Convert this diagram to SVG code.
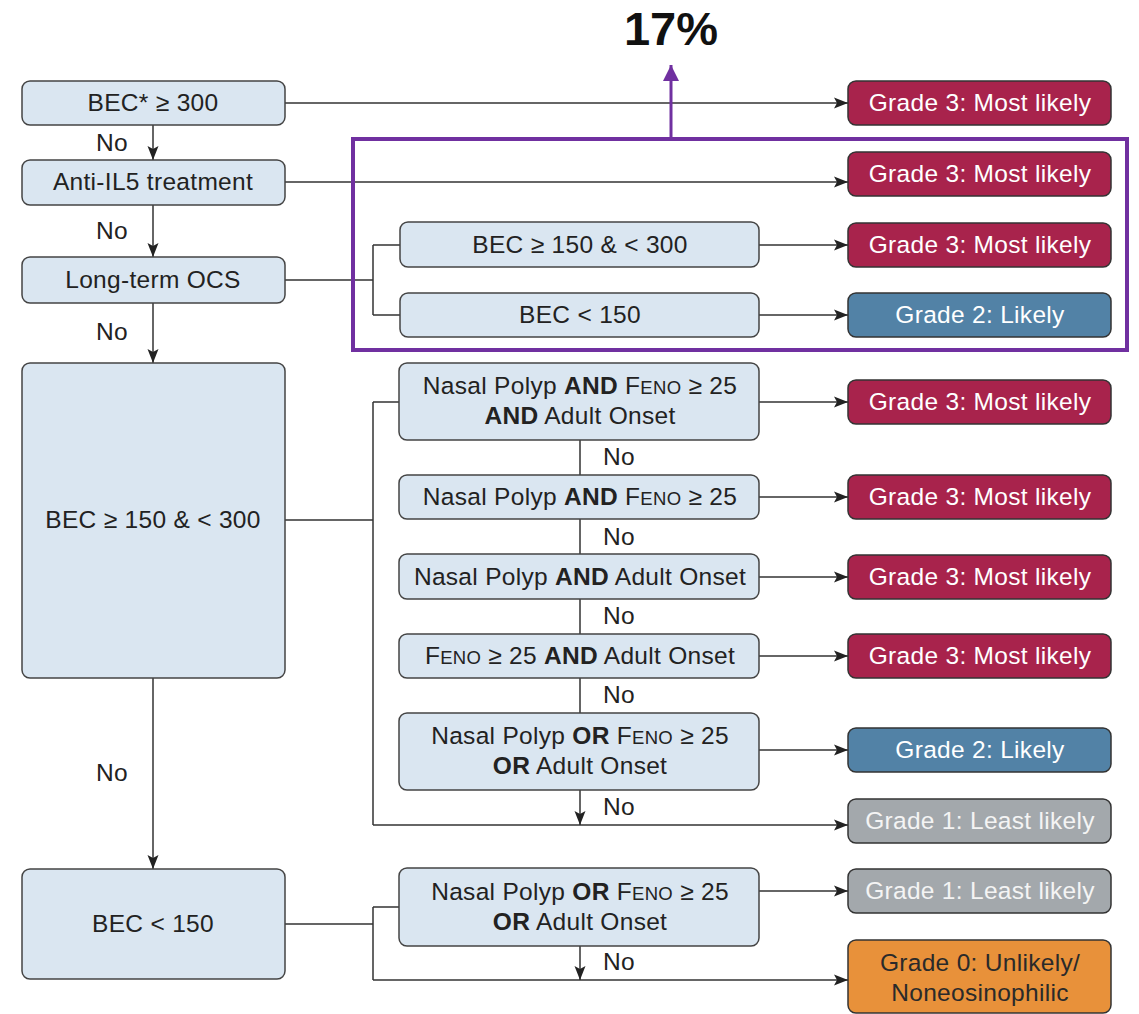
<svg xmlns="http://www.w3.org/2000/svg" width="1139" height="1014" viewBox="0 0 1139 1014">
<defs>
<marker id="ah" markerUnits="userSpaceOnUse" markerWidth="15" markerHeight="12" refX="14" refY="6" orient="auto">
<path d="M0,0.5 L14,6 L0,11.5 L3,6 z" fill="#222"/>
</marker>
<marker id="ahp" markerUnits="userSpaceOnUse" markerWidth="18" markerHeight="18" refX="16" refY="8" orient="auto">
<path d="M0,0 L16,8 L0,16 z" fill="#7030a0"/>
</marker>
</defs>
<style>
text{font-family:"Liberation Sans",Arial,sans-serif;font-size:24.5px;letter-spacing:0.3px;text-anchor:middle;fill:#222}
.b{font-weight:bold}
.sc{font-size:18.5px}
.n rect{fill:#dae6f1;stroke:#444;stroke-width:1.5}
.g3 rect{fill:#a8234c;stroke:#333;stroke-width:1.5}
.g2 rect{fill:#5282a6;stroke:#333;stroke-width:1.5}
.g1 rect{fill:#a3a8ac;stroke:#333;stroke-width:1.5}
.g0 rect{fill:#e8913a;stroke:#333;stroke-width:1.5}
.g3 text,.g2 text{fill:#fff}
.g1 text{fill:#f4f4f4}
.g0 text{fill:#2a2a2a}
.c{fill:none;stroke:#333;stroke-width:1.5}
.a{marker-end:url(#ah)}
.no{text-anchor:start}
</style>

<g id="connectors">
<path class="c a" d="M285,103 H848"/>
<path class="c a" d="M285,182 H848"/>
<path class="c" d="M285,280 H373 M373,245 V315 M373,245 H400 M373,315 H400"/>
<path class="c a" d="M759,245 H848"/>
<path class="c a" d="M759,315 H848"/>
<path class="c a" d="M153,125 V160"/>
<path class="c a" d="M153,205 V257"/>
<path class="c a" d="M153,303 V363"/>
<path class="c a" d="M153,678 V869"/>
<path class="c" d="M285,520 H373 M373,402 V825 M373,402 H399"/>
<path class="c a" d="M373,825 H848"/>
<path class="c" d="M580,440 V475 M580,519 V554 M580,599 V634 M580,678 V713"/>
<path class="c a" d="M580,790 V825"/>
<path class="c a" d="M759,402 H848"/>
<path class="c a" d="M759,497 H848"/>
<path class="c a" d="M759,577 H848"/>
<path class="c a" d="M759,656 H848"/>
<path class="c a" d="M759,750 H848"/>
<path class="c" d="M285,924 H373 M373,907 V980 M373,907 H399"/>
<path class="c a" d="M373,980 H848"/>
<path class="c a" d="M580,946 V980"/>
<path class="c a" d="M759,891 H848"/>
<text class="no" x="96" y="151">No</text>
<text class="no" x="96" y="239">No</text>
<text class="no" x="96" y="340">No</text>
<text class="no" x="96" y="781">No</text>
<text class="no" x="603" y="465">No</text>
<text class="no" x="603" y="545">No</text>
<text class="no" x="603" y="624">No</text>
<text class="no" x="603" y="703">No</text>
<text class="no" x="603" y="815">No</text>
<text class="no" x="603" y="970">No</text>
</g>

<g id="highlight">
<rect x="353" y="139" width="774" height="211" fill="none" stroke="#7030a0" stroke-width="4"/>
<path d="M671,139 V65" fill="none" stroke="#7030a0" stroke-width="3" marker-end="url(#ahp)"/>
<text x="671" y="45" class="b" style="font-size:47px;letter-spacing:0;fill:#111">17%</text>
</g>

<g id="n_bec300" class="n"><rect x="22" y="81" width="263" height="44" rx="8"/><text x="153" y="111">BEC* ≥ 300</text></g>
<g id="n_antiil5" class="n"><rect x="22" y="160" width="263" height="45" rx="8"/><text x="153" y="190">Anti-IL5 treatment</text></g>
<g id="n_ocs" class="n"><rect x="22" y="257" width="263" height="46" rx="8"/><text x="153" y="288">Long-term OCS</text></g>
<g id="n_bec150_300" class="n"><rect x="22" y="363" width="263" height="315" rx="8"/><text x="153" y="528">BEC ≥ 150 &amp; &lt; 300</text></g>
<g id="n_bec150" class="n"><rect x="22" y="869" width="263" height="110" rx="8"/><text x="153" y="932">BEC &lt; 150</text></g>

<g id="n_ocs_mid" class="n"><rect x="400" y="222" width="359" height="45" rx="8"/><text x="580" y="253">BEC ≥ 150 &amp; &lt; 300</text></g>
<g id="n_ocs_low" class="n"><rect x="400" y="293" width="359" height="44" rx="8"/><text x="580" y="323">BEC &lt; 150</text></g>

<g id="n_q1" class="n"><rect x="399" y="363" width="360" height="77" rx="8"/>
<text x="580" y="394">Nasal Polyp <tspan class="b">AND</tspan> F<tspan class="sc">ENO</tspan> ≥ 25</text>
<text x="580" y="424"><tspan class="b">AND</tspan> Adult Onset</text></g>
<g id="n_q2" class="n"><rect x="399" y="475" width="360" height="44" rx="8"/>
<text x="580" y="505">Nasal Polyp <tspan class="b">AND</tspan> F<tspan class="sc">ENO</tspan> ≥ 25</text></g>
<g id="n_q3" class="n"><rect x="399" y="554" width="360" height="45" rx="8"/>
<text x="580" y="585">Nasal Polyp <tspan class="b">AND</tspan> Adult Onset</text></g>
<g id="n_q4" class="n"><rect x="399" y="634" width="360" height="44" rx="8"/>
<text x="580" y="664">F<tspan class="sc">ENO</tspan> ≥ 25 <tspan class="b">AND</tspan> Adult Onset</text></g>
<g id="n_q5" class="n"><rect x="399" y="713" width="360" height="77" rx="8"/>
<text x="580" y="744">Nasal Polyp <tspan class="b">OR</tspan> F<tspan class="sc">ENO</tspan> ≥ 25</text>
<text x="580" y="774"><tspan class="b">OR</tspan> Adult Onset</text></g>
<g id="n_q6" class="n"><rect x="399" y="868" width="360" height="78" rx="8"/>
<text x="580" y="900">Nasal Polyp <tspan class="b">OR</tspan> F<tspan class="sc">ENO</tspan> ≥ 25</text>
<text x="580" y="930"><tspan class="b">OR</tspan> Adult Onset</text></g>

<g id="g_a" class="g3"><rect x="848" y="81" width="263" height="44" rx="8"/><text x="980" y="111">Grade 3: Most likely</text></g>
<g id="g_b" class="g3"><rect x="848" y="152" width="263" height="44" rx="8"/><text x="980" y="182">Grade 3: Most likely</text></g>
<g id="g_c" class="g3"><rect x="848" y="223" width="263" height="44" rx="8"/><text x="980" y="253">Grade 3: Most likely</text></g>
<g id="g_d" class="g2"><rect x="848" y="293" width="263" height="44" rx="8"/><text x="980" y="323">Grade 2: Likely</text></g>
<g id="g_e" class="g3"><rect x="848" y="380" width="263" height="44" rx="8"/><text x="980" y="410">Grade 3: Most likely</text></g>
<g id="g_f" class="g3"><rect x="848" y="475" width="263" height="44" rx="8"/><text x="980" y="505">Grade 3: Most likely</text></g>
<g id="g_g" class="g3"><rect x="848" y="555" width="263" height="44" rx="8"/><text x="980" y="585">Grade 3: Most likely</text></g>
<g id="g_h" class="g3"><rect x="848" y="634" width="263" height="44" rx="8"/><text x="980" y="664">Grade 3: Most likely</text></g>
<g id="g_i" class="g2"><rect x="848" y="728" width="263" height="44" rx="8"/><text x="980" y="758">Grade 2: Likely</text></g>
<g id="g_j" class="g1"><rect x="848" y="799" width="263" height="44" rx="8"/><text x="980" y="829">Grade 1: Least likely</text></g>
<g id="g_k" class="g1"><rect x="848" y="869" width="263" height="44" rx="8"/><text x="980" y="899">Grade 1: Least likely</text></g>
<g id="g_l" class="g0"><rect x="848" y="940" width="263" height="73" rx="8"/><text x="980" y="971">Grade 0: Unlikely/</text><text x="980" y="1001">Noneosinophilic</text></g>
</svg>
